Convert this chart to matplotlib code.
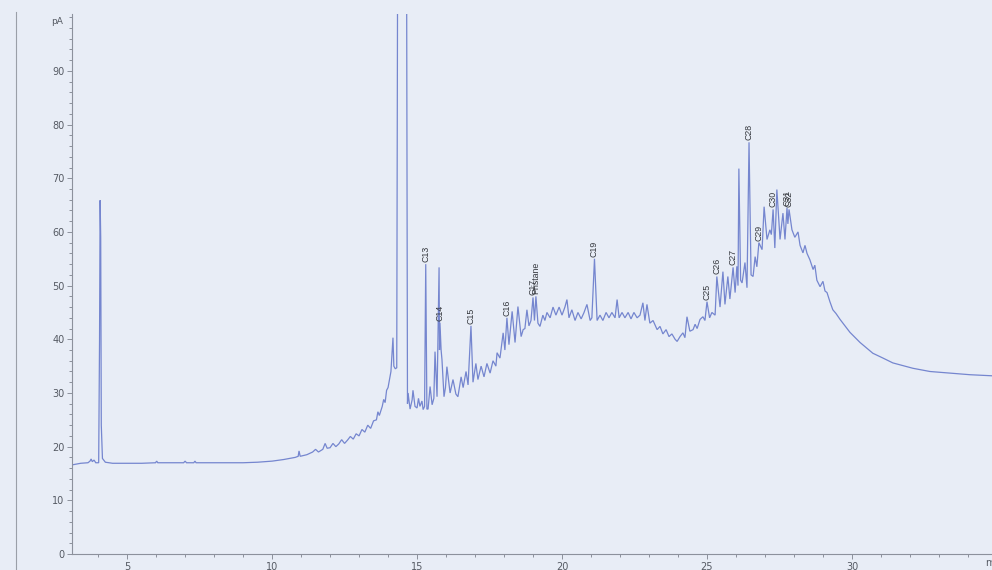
import numpy as np
import matplotlib
matplotlib.use("Agg")
import matplotlib.pyplot as plt
from matplotlib.lines import Line2D
from matplotlib.ticker import MultipleLocator

# FID trace, retention time (min) and detector signal (pA)
rt_min = [
    3.10, 3.40, 3.65, 3.72, 3.76, 3.80, 3.86, 3.92, 4.02, 4.05, 4.07, 4.09, 4.11, 4.15, 4.25,
    4.50, 5.00, 5.50, 5.98, 6.02, 6.06, 6.60, 6.95, 7.00, 7.05, 7.30, 7.34, 7.38, 8.00, 8.50,
    9.00, 9.50, 10.00, 10.40, 10.80, 10.90, 10.93, 10.97, 11.20, 11.40, 11.50, 11.60, 11.75, 11.83, 11.90,
    12.00, 12.10, 12.20, 12.30, 12.40, 12.50, 12.60, 12.70, 12.80, 12.90, 13.00, 13.10, 13.20, 13.30,
    13.40, 13.50, 13.60, 13.65, 13.70, 13.80, 13.85, 13.90, 13.95, 14.00, 14.05, 14.10, 14.17, 14.20,
    14.25, 14.30, 14.33, 14.64, 14.67, 14.69, 14.76, 14.83, 14.86, 14.93, 15.00, 15.05, 15.10, 15.17,
    15.21, 15.26, 15.30, 15.34, 15.38, 15.45, 15.52, 15.58, 15.62, 15.69, 15.76, 15.775, 15.79, 15.83,
    15.86, 15.93, 15.98, 16.03, 16.14, 16.24, 16.34, 16.41, 16.52, 16.59, 16.69, 16.76, 16.86, 16.93,
    17.03, 17.10, 17.21, 17.31, 17.41, 17.52, 17.62, 17.72, 17.76, 17.86, 17.97, 18.03, 18.10, 18.17,
    18.28, 18.38, 18.48, 18.59, 18.66, 18.72, 18.79, 18.86, 18.93, 19.00, 19.05, 19.10, 19.17, 19.24,
    19.34, 19.41, 19.48, 19.59, 19.69, 19.79, 19.90, 20.00, 20.10, 20.17, 20.24, 20.34, 20.45, 20.55,
    20.66, 20.76, 20.86, 20.97, 21.03, 21.12, 21.21, 21.31, 21.41, 21.52, 21.62, 21.72, 21.83, 21.90,
    21.97, 22.07, 22.17, 22.28, 22.38, 22.48, 22.59, 22.69, 22.79, 22.86, 22.93, 23.03, 23.14, 23.28,
    23.38, 23.48, 23.59, 23.69, 23.79, 23.90, 23.97, 24.07, 24.17, 24.24, 24.31, 24.41, 24.52, 24.59,
    24.66, 24.76, 24.86, 24.93, 25.00, 25.09, 25.17, 25.28, 25.34, 25.45, 25.55, 25.62, 25.72, 25.79,
    25.90, 25.97, 26.03, 26.07, 26.10, 26.16, 26.21, 26.31, 26.38, 26.45, 26.52, 26.59, 26.66, 26.72,
    26.79, 26.90, 26.97, 27.07, 27.17, 27.22, 27.28, 27.34, 27.41, 27.52, 27.62, 27.69, 27.76, 27.79,
    27.83, 27.93, 28.03, 28.14, 28.21, 28.31, 28.38, 28.45, 28.55, 28.66, 28.72, 28.79, 28.90, 29.00,
    29.07, 29.14, 29.24, 29.34, 29.45, 29.59, 29.76, 29.93, 30.28, 30.72, 31.07, 31.41, 32.10, 32.69,
    33.38, 34.07, 34.83,
]
signal_pa = [
    16.6, 16.9, 17.0, 17.3, 17.7, 17.2, 17.5, 17.0, 17.0, 40.0, 65.9, 59.0, 24.0, 17.8, 17.1,
    16.9, 16.9, 16.9, 17.0, 17.3, 17.0, 17.0, 17.0, 17.3, 17.0, 17.0, 17.3, 17.0, 17.0, 17.0,
    17.0, 17.1, 17.3, 17.6, 18.0, 18.2, 19.2, 18.2, 18.5, 19.0, 19.5, 19.0, 19.5, 20.6, 19.7,
    19.8, 20.6, 20.0, 20.5, 21.3, 20.6, 21.2, 21.9, 21.4, 22.4, 22.0, 23.2, 22.7, 24.0,
    23.4, 24.8, 25.0, 26.5, 25.8, 27.5, 28.8, 28.2, 30.5, 31.0, 32.5, 34.0, 40.3, 35.0,
    34.5, 34.7, 110.0, 110.0, 28.0, 30.0, 27.0, 28.7, 30.5, 27.5, 27.2, 29.0, 27.5, 28.5,
    26.9, 27.5, 54.0, 27.0, 27.0, 31.2, 27.8, 29.0, 37.7, 29.3, 53.4, 38.0, 43.1, 38.0,
    36.2, 29.3, 31.0, 34.9, 30.0, 32.5, 29.8, 29.3, 33.0, 31.0, 34.0, 31.5, 42.5, 32.0,
    35.5, 32.5, 35.0, 33.0, 35.5, 33.7, 36.0, 35.0, 37.5, 36.5, 41.2, 38.0, 44.0, 39.0,
    45.2, 39.4, 46.1, 40.5, 41.8, 42.0, 45.5, 42.5, 43.5, 47.8, 43.5, 48.0, 43.0, 42.4,
    44.5, 43.5, 45.0, 44.0, 46.0, 44.5, 46.0, 44.5, 46.0, 47.4, 44.0, 45.5, 43.5, 45.0,
    43.8, 45.0, 46.5, 43.5, 44.0, 55.0, 43.5, 44.5, 43.5, 45.0, 44.0, 45.0, 44.0, 47.4,
    44.0, 45.0, 44.0, 45.0, 43.8, 45.0, 44.0, 44.5, 46.8, 43.5, 46.5, 43.0, 43.5, 41.8,
    42.4, 41.0, 41.8, 40.5, 41.0, 40.0, 39.6, 40.5, 41.2, 40.3, 44.2, 41.5, 41.8, 42.8,
    42.0, 43.7, 44.2, 43.5, 47.0, 44.0, 45.0, 44.5, 51.7, 46.0, 52.6, 46.5, 51.7, 47.5,
    53.4, 48.7, 53.6, 50.0, 71.8, 51.0, 50.5, 54.3, 49.6, 76.7, 52.0, 51.7, 55.4, 53.5,
    58.0, 56.7, 64.7, 58.6, 60.4, 59.5, 64.2, 57.0, 67.9, 58.6, 63.5, 58.6, 64.5, 61.5,
    64.2, 60.4, 59.0, 60.0, 57.5, 56.1, 57.5, 56.0, 54.8, 53.0, 53.8, 51.0, 49.8, 50.8,
    49.0, 48.7, 47.0, 45.5, 44.8, 43.7, 42.5, 41.3, 39.4, 37.4, 36.5, 35.6, 34.6, 34.0,
    33.7, 33.4, 33.2,
]

# named peaks
peak_names = ["C13", "C14", "C15", "C16", "C17", "Pristane", "C19", "C25", "C26",
              "C27", "C28", "C29", "C30", "C31", "C32"]
peak_rt = [15.30, 15.79, 16.86, 18.10, 19.00, 19.10, 21.12, 25.00, 25.34,
           25.90, 26.45, 26.79, 27.28, 27.76, 27.83]

paper = "#e8edf6"
trace_col = "#7586cf"
axis_col = "#8c919c"
text_col = "#555a63"

rt = np.array(rt_min)
sig = np.array(signal_pa)

fig = plt.figure(figsize=(9.92, 5.70), dpi=100, facecolor=paper)
ax = fig.add_axes([72 / 992, 16 / 570, 1 - 72 / 992, 540 / 570])
ax.set_facecolor(paper)

ax.plot(rt, sig, color=trace_col, lw=0.9, solid_joinstyle="miter")

for name, t in zip(peak_names, peak_rt):
    i = np.argmin(np.abs(rt - t))
    ax.annotate(name, (rt[i], sig[i]), xytext=(0, 1.5), textcoords="offset points",
                rotation=90, ha="center", va="bottom", fontsize=6.3,
                family="Liberation Sans", color="#33363c")

ax.set_xlim(3.1, 34.83)
ax.set_ylim(0, 100.6)
ax.set_yticks(np.arange(0, 91, 10))
ax.xaxis.set_major_locator(MultipleLocator(5))
ax.xaxis.set_minor_locator(MultipleLocator(1))
ax.yaxis.set_minor_locator(MultipleLocator(2))

for side in ("top", "right"):
    ax.spines[side].set_visible(False)
for side in ("left", "bottom"):
    ax.spines[side].set_color(axis_col)
    ax.spines[side].set_linewidth(0.8)

ax.tick_params(which="both", colors=axis_col, labelcolor=text_col, labelsize=7, width=0.7)
ax.tick_params(which="major", length=3.5, pad=2)
ax.tick_params(which="minor", length=2)

fig.text(57 / 992, 1 - 22 / 570, "pA", ha="center", va="center", fontsize=6.5, color=text_col)
fig.text(985 / 992, 1 - 563 / 570, "min", ha="left", va="center", fontsize=7, color=text_col)

# page edge on the left
fig.add_artist(Line2D([16 / 992, 16 / 992], [0, 1 - 12 / 570], transform=fig.transFigure,
                      color="#9a9fa8", lw=0.8))

fig.savefig("out.png", dpi=100, facecolor=paper)
